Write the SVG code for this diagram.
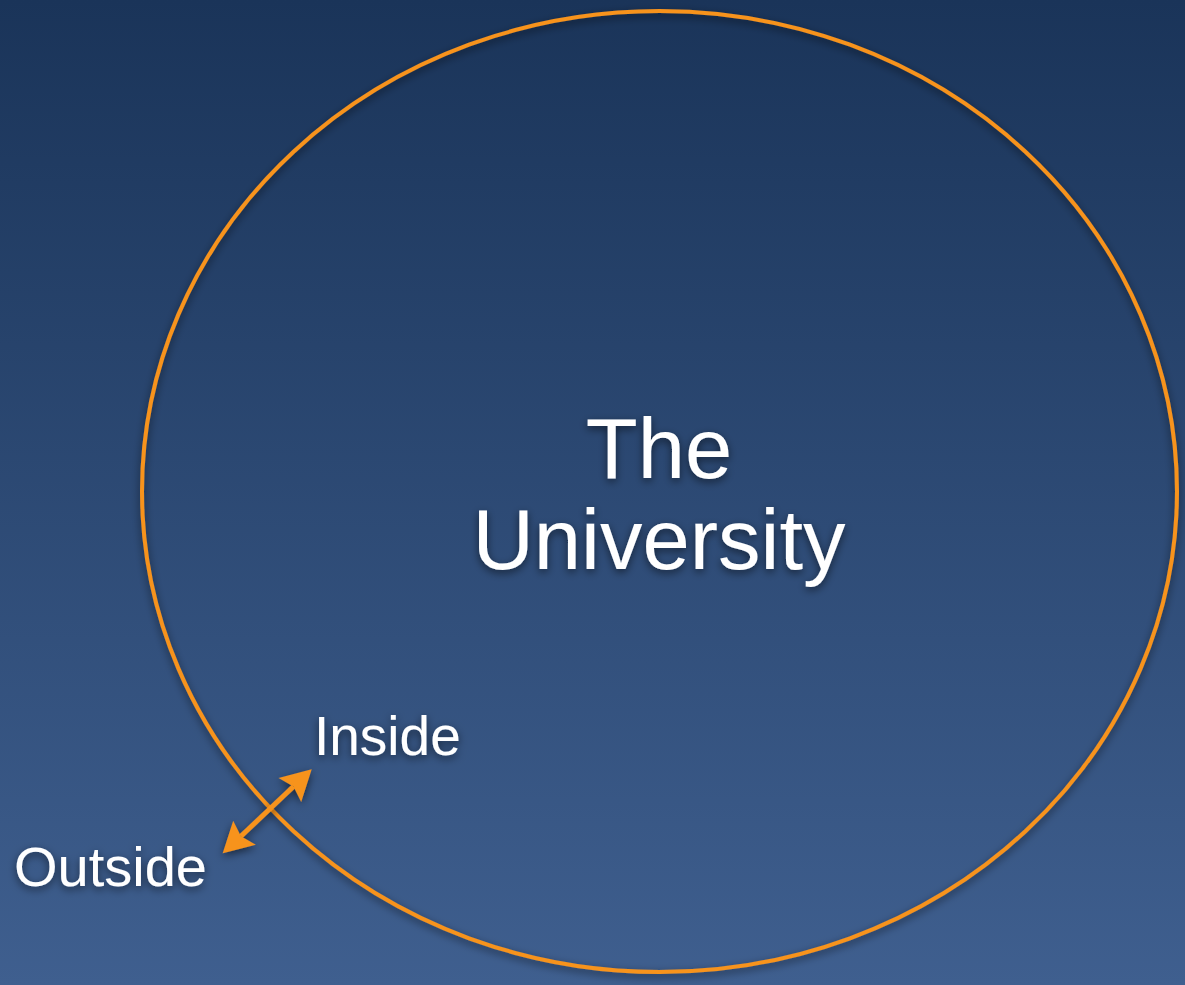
<svg xmlns="http://www.w3.org/2000/svg" width="1185" height="985" viewBox="0 0 1185 985">
  <defs>
    <linearGradient id="bg" x1="0" y1="0" x2="0" y2="1">
      <stop offset="0" stop-color="#1a3459"/>
      <stop offset="1" stop-color="#3f5f8f"/>
    </linearGradient>
    <filter id="shadow" x="-20%" y="-20%" width="140%" height="140%">
      <feDropShadow dx="0" dy="3" stdDeviation="4" flood-color="#000" flood-opacity="0.55"/>
    </filter>
    <style>
      .lbl { font-family: "Liberation Sans", Arial, sans-serif; fill: #ffffff; }
      .orange { fill: #f7931e; }
    </style>
  </defs>
  <rect width="1185" height="985" fill="url(#bg)"/>
  <g id="university" filter="url(#shadow)">
    <ellipse cx="659.5" cy="491.5" rx="517.5" ry="480.5" fill="none" stroke="#f7931e" stroke-width="4"/>
    <text class="lbl" x="659" y="478" font-size="85" text-anchor="middle">The</text>
    <text class="lbl" x="659" y="569" font-size="85" text-anchor="middle">University</text>
  </g>
  <g id="inside" filter="url(#shadow)">
    <text class="lbl" x="314" y="755" font-size="55">Inside</text>
  </g>
  <g id="outside" filter="url(#shadow)">
    <text class="lbl" x="14" y="886" font-size="56">Outside</text>
  </g>
  <g id="connectors" filter="url(#shadow)">
    <line x1="240.9" y1="836.2" x2="293.5" y2="786.5" stroke="#f7931e" stroke-width="5"/>
    <path class="orange" d="M311.7,769.3 L301.2,801.9 L293.5,786.5 L278.6,777.9 Z"/>
    <path class="orange" d="M222.7,853.3 L255.8,844.7 L240.9,836.2 L233.2,820.7 Z"/>
  </g>
</svg>
